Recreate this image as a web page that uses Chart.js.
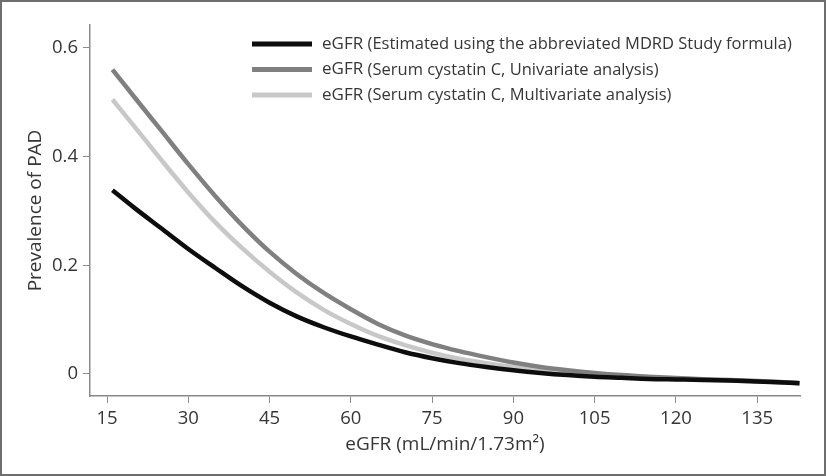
<!DOCTYPE html>
<html lang="en">
<head>
  <meta charset="UTF-8">
  <title>Prevalence of PAD by eGFR</title>
  <script src="https://cdn.jsdelivr.net/npm/chart.js"></script>
  <style>
    body {
      margin: 0;
      background: #fff;
    }
    #frame {
      width: 826px;
      height: 476px;
      box-sizing: border-box;
      border: 2px solid #6e6e6e;
      background: #fff;
    }
    #box {
      position: relative;
      width: 822px;
      height: 472px;
    }
  </style>
</head>
<body>

<div id="frame"><div id="box"><canvas id="padChart"></canvas></div></div>

<script>
/****************************************************************
  DATA
****************************************************************/
const egfr = [16, 20, 25, 30, 35, 40, 45, 50, 55, 60, 65, 70, 75, 80, 85, 90,
              95, 100, 105, 110, 115, 120, 125, 130, 135, 140, 142.8];

// eGFR estimated with the abbreviated MDRD formula
const mdrdPrev = [0.338, 0.306, 0.268, 0.230, 0.195, 0.161, 0.131, 0.106, 0.086, 0.069,
                  0.054, 0.040, 0.029, 0.020, 0.013, 0.007, 0.002, -0.002, -0.005, -0.007,
                  -0.009, -0.010, -0.011, -0.0122, -0.0137, -0.0157, -0.0172];

// eGFR from serum cystatin C, univariate
const cysUniPrev = [0.560, 0.510, 0.448, 0.386, 0.327, 0.273, 0.225, 0.184, 0.149, 0.119,
                    0.092, 0.071, 0.055, 0.042, 0.031, 0.021, 0.013, 0.007, 0.002, -0.002,
                    -0.005, -0.0075, -0.0095, -0.0112, -0.013, -0.0152, -0.0168];

// eGFR from serum cystatin C, multivariate
const cysMultiPrev = [0.505, 0.456, 0.394, 0.334, 0.279, 0.231, 0.188, 0.150, 0.118, 0.092,
                      0.070, 0.053, 0.039, 0.028, 0.020, 0.013, 0.007, 0.003, -0.001, -0.004,
                      -0.0065, -0.0085, -0.0102, -0.0118, -0.0134, -0.0154, -0.0169];

const seriesNames = [
  ['eGFR', '(Estimated using the abbreviated MDRD Study formula)'],
  ['eGFR', '(Serum cystatin C, Univariate analysis)'],
  ['eGFR', '(Serum cystatin C, Multivariate analysis)']
];
const seriesColors = ['#0d0d0d', '#808080', '#c8c8c8'];

const xTicks = [15, 30, 45, 60, 75, 90, 105, 120, 135];
const yTicks = [0, 0.2, 0.4, 0.6];

const FONT = "'Open Sans', 'Noto Sans', sans-serif";
const TEXT = '#363636';
const AXIS = '#8a8a8a';

/****************************************************************
  LEGEND drawn inside the plot, top right
****************************************************************/
const insideLegend = {
  id: 'insideLegend',
  afterDatasetsDraw(chart) {
    const ctx = chart.ctx;
    ctx.save();
    chart.data.datasets.forEach((ds, i) => {
      const y = 42 + i * 25.5;
      ctx.strokeStyle = ds.borderColor;
      ctx.lineWidth = 5;
      ctx.lineCap = 'butt';
      ctx.beginPath();
      ctx.moveTo(250, y);
      ctx.lineTo(310, y);
      ctx.stroke();

      ctx.fillStyle = TEXT;
      ctx.textBaseline = 'middle';
      ctx.font = '17px ' + FONT;
      ctx.fillText(seriesNames[i][0], 320, y);
      const w = ctx.measureText(seriesNames[i][0] + ' ').width;
      ctx.font = '16.5px ' + FONT;
      ctx.fillText(seriesNames[i][1], 320 + w, y + 0.5);
    });
    ctx.restore();
  }
};

/****************************************************************
  CHART
****************************************************************/
const toPoints = ys => egfr.map((x, i) => ({ x, y: ys[i] }));
const lineSet = (i, ys) => ({
  label: seriesNames[i].join(' '),
  data: toPoints(ys),
  borderColor: seriesColors[i],
  backgroundColor: seriesColors[i],
  borderWidth: 4.5,
  pointRadius: 0,
  cubicInterpolationMode: 'monotone',
  fill: false
});

// dataset 0 (black) is drawn last, so it sits on top like in the figure
new Chart(document.getElementById('padChart'), {
  type: 'line',
  data: {
    datasets: [
      lineSet(0, mdrdPrev),
      lineSet(1, cysUniPrev),
      lineSet(2, cysMultiPrev)
    ]
  },
  options: {
    responsive: true,
    maintainAspectRatio: false,
    animation: false,
    layout: { padding: { left: 0, top: 23, right: 24, bottom: 0 } },
    plugins: {
      legend: { display: false },
      tooltip: { enabled: false }
    },
    scales: {
      x: {
        type: 'linear',
        min: 11.86,
        max: 142.9,
        afterBuildTicks: s => { s.ticks = xTicks.map(v => ({ value: v })); },
        afterFit: s => { s.height = 78; },
        grid: { drawOnChartArea: false, drawTicks: true, tickLength: 7, color: AXIS, lineWidth: 1 },
        border: { display: true, color: AXIS, width: 1.5 },
        ticks: { color: TEXT, font: { family: FONT, size: 18.5 }, padding: 5, maxRotation: 0 },
        title: {
          display: true,
          text: 'eGFR (mL/min/1.73m²)',
          color: TEXT,
          font: { family: FONT, size: 19 },
          padding: { top: 18, bottom: 18 }
        }
      },
      y: {
        min: -0.0405,
        max: 0.642,
        afterBuildTicks: s => { s.ticks = yTicks.map(v => ({ value: v })); },
        afterFit: s => { s.width = 88; },
        grid: { drawOnChartArea: false, drawTicks: true, tickLength: 7, color: AXIS, lineWidth: 1 },
        border: { display: true, color: AXIS, width: 1.5 },
        ticks: {
          color: TEXT,
          font: { family: FONT, size: 18.5 },
          padding: 5,
          callback: v => (v === 0 ? '0' : v.toFixed(1))
        },
        title: {
          display: true,
          text: 'Prevalence of PAD',
          color: TEXT,
          font: { family: FONT, size: 19 },
          padding: { top: 22, bottom: 0 }
        }
      }
    }
  },
  plugins: [insideLegend]
});
</script>
</body>
</html>
